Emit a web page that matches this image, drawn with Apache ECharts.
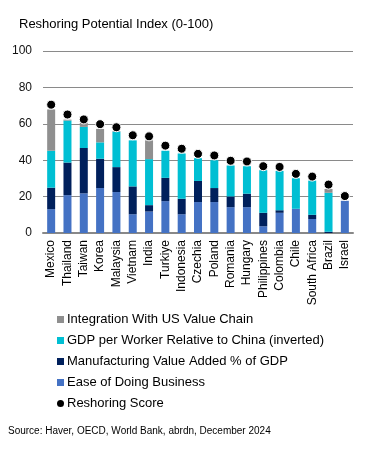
<!DOCTYPE html>
<html>
<head>
<meta charset="utf-8">
<script src="https://cdn.jsdelivr.net/npm/echarts@6/dist/echarts.min.js"></script>
<style>
html,body{margin:0;padding:0;background:#fff;}
#chart{width:369px;height:450px;}
</style>
</head>
<body>
<div id="chart"></div>
<script>
const categories = ["Mexico","Thailand","Taiwan","Korea","Malaysia","Vietnam","India","Turkiye","Indonesia","Czechia","Poland","Romania","Hungary","Philippines","Colombia","Chile","South Africa","Brazil","Israel"];
const easeOfDoingBusiness = [13.1,20.8,21.8,24.7,22.5,10.3,11.8,17.5,10.3,17.0,17.0,14.2,14.2,3.7,11.1,13.3,7.7,0,17.7];
const manufacturingValueAdded = [11.8,17.9,24.9,16.1,13.7,15.3,3.5,12.8,8.5,11.6,7.7,5.9,7.4,7.4,1.4,0,2.3,0.7,0];
const gdpPerWorker = [20.3,23.1,11.6,9.0,19.5,25.3,25.3,14.9,24.9,12.5,15.3,17.0,15.1,23.4,21.6,16.8,18.8,21.4,0];
const integrationUS = [22.7,0.5,2.2,7.4,0.3,0,10.3,0,0,0,0,0,0,0,0,0,0,2.1,0];
const reshoringScore = [70.5,65.1,62.4,59.8,58.1,53.7,53.1,48.0,46.3,43.5,42.6,39.7,39.3,36.7,36.3,32.5,31.0,26.6,20.3];
const yTicks = [0,20,40,60,80,100];

const names = {
  integ: "Integration With US Value Chain",
  gdp: "GDP per Worker Relative to China (inverted)",
  mfg: "Manufacturing Value Added % of GDP",
  ease: "Ease of Doing Business",
  score: "Reshoring Score"
};
const colors = {integ:"#8f8f8f", gdp:"#00bfd3", mfg:"#00205c", ease:"#4472c4"};
const font = "Liberation Sans, Arial, sans-serif";
const bw = 8;

function barSeries(name, data, color) {
  return {
    name: name, type: "bar", stack: "total", data: data, barWidth: bw,
    itemStyle: {color: color}, emphasis: {disabled: true}
  };
}

const chart = echarts.init(document.getElementById("chart"), null, {renderer: "canvas"});
chart.setOption({
  animation: false,
  backgroundColor: "#fff",
  title: {
    text: "Reshoring Potential Index (0-100)",
    left: 14, top: 13,
    textStyle: {fontFamily: font, fontSize: 13, fontWeight: "normal", color: "#000"}
  },
  graphic: [{
    type: "text", left: 8, top: 426,
    style: {text: "Source: Haver, OECD, World Bank, abrdn, December 2024", font: "10px " + font, fill: "#000"}
  }],
  legend: {
    orient: "vertical", left: 52, top: 308,
    itemWidth: 7, itemHeight: 7, itemGap: 8,
    textStyle: {fontFamily: font, fontSize: 13, color: "#000", padding: [0,0,0,-2]},
    data: [
      {name: names.integ, icon: "rect"},
      {name: names.gdp, icon: "rect"},
      {name: names.mfg, icon: "rect"},
      {name: names.ease, icon: "rect"},
      {name: names.score, icon: "circle", itemStyle: {borderWidth: 0, opacity: 1}}
    ]
  },
  grid: {left: 43, right: 16, top: 51, bottom: 217, containLabel: false},
  xAxis: {
    type: "category", data: categories,
    axisLine: {show: true, lineStyle: {color: "#888", width: 2}},
    axisTick: {show: false},
    axisLabel: {rotate: 90, interval: 0, margin: 7, fontFamily: font, fontSize: 12, color: "#000"}
  },
  yAxis: {
    type: "value", min: yTicks[0], max: yTicks[yTicks.length-1], interval: 20,
    axisLine: {show: false}, axisTick: {show: false},
    axisLabel: {margin: 11, fontFamily: font, fontSize: 12, color: "#111"},
    splitLine: {lineStyle: {color: "#8a8a8a", width: 1}}
  },
  series: [
    barSeries(names.ease, easeOfDoingBusiness, colors.ease),
    barSeries(names.mfg, manufacturingValueAdded, colors.mfg),
    barSeries(names.gdp, gdpPerWorker, colors.gdp),
    barSeries(names.integ, integrationUS, colors.integ),
    {
      name: names.score, type: "scatter", data: reshoringScore, symbol: "circle", symbolSize: 9,
      itemStyle: {color: "#000", borderColor: "#fff", borderWidth: 1, opacity: 1}, z: 5,
      emphasis: {disabled: true}
    }
  ]
});
</script>
</body>
</html>
